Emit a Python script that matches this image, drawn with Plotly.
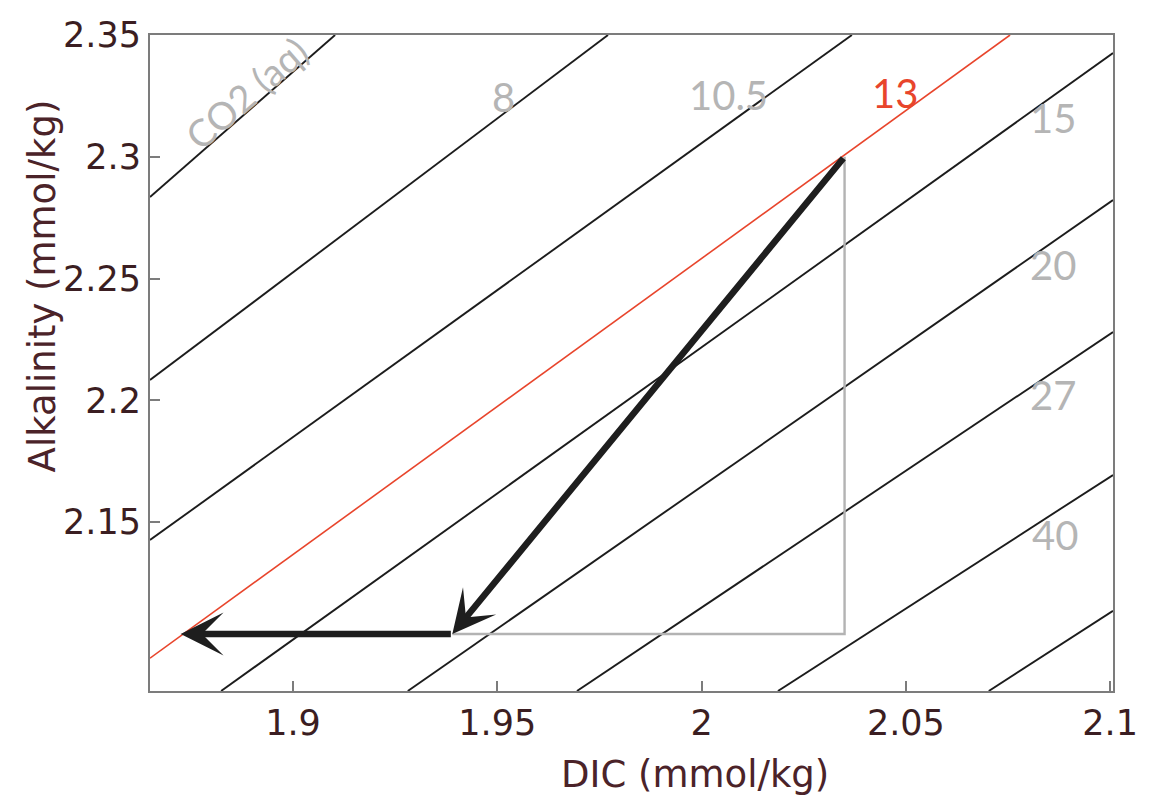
import plotly.graph_objects as go

# Axis ticks
x_ticks = [1.9, 1.95, 2.0, 2.05, 2.1]
x_tick_text = ["1.9", "1.95", "2", "2.05", "2.1"]
y_ticks = [2.15, 2.2, 2.25, 2.3, 2.35]
y_tick_text = ["2.15", "2.2", "2.25", "2.3", "2.35"]

# CO2(aq) isolines in DIC / alkalinity space, one segment per isoline
iso_dic_start = [1.865, 1.865, 1.865, 1.865, 1.8824, 1.9281, 1.9695, 2.0187, 2.0703]
iso_alk_start = [2.2835, 2.2083, 2.1426, 2.0941, 2.0806, 2.0806, 2.0806, 2.0806, 2.0806]
iso_dic_end = [1.9103, 1.9771, 2.0368, 2.0755, 2.1007, 2.1007, 2.1007, 2.1007, 2.1007]
iso_alk_end = [2.35, 2.35, 2.35, 2.35, 2.3426, 2.2822, 2.2280, 2.1693, 2.1135]
highlight_index = 3  # the 13 µmol/kg isoline

# Isoline labels
label_text = ["CO2 (aq)", "8", "10.5", "13", "15", "20", "27", "40"]
label_dic = [1.8885, 1.9516, 2.0065, 2.0473, 2.0860, 2.0860, 2.0860, 2.0865]
label_alk = [2.3262, 2.3245, 2.3254, 2.3262, 2.3159, 2.2555, 2.2022, 2.1447]

# Path: CaCO3 precipitation, then CO2 loss back to the 13 isoline
path_dic = [2.035, 1.939, 1.8725]
path_alk = [2.300, 2.104, 2.104]

x_range = [1.865, 2.1007]
y_range = [2.0806, 2.35]

TICK_COLOR = "#3b1e22"
TITLE_COLOR = "#4b2329"
FRAME_COLOR = "#7c7c7c"
LABEL_GREY = "#b5b5b5"
RED = "#e8452c"

fig = go.Figure()

# Isolines
for i in range(len(iso_dic_start)):
    red = i == highlight_index
    fig.add_trace(go.Scatter(
        x=[iso_dic_start[i], iso_dic_end[i]],
        y=[iso_alk_start[i], iso_alk_end[i]],
        mode="lines",
        line=dict(color=RED if red else "#1c1c1c", width=1.6 if red else 1.9),
        hoverinfo="skip",
    ))

# Grey component lines of the path
fig.add_trace(go.Scatter(
    x=[path_dic[1], path_dic[0], path_dic[0]],
    y=[path_alk[1], path_alk[1], path_alk[0]],
    mode="lines",
    line=dict(color="#b3b3b3", width=2.4),
    hoverinfo="skip",
))

annotations = []

# Thick arrows along the path
for i in range(len(path_dic) - 1):
    annotations.append(dict(
        x=path_dic[i + 1], y=path_alk[i + 1],
        ax=path_dic[i], ay=path_alk[i],
        xref="x", yref="y", axref="x", ayref="y",
        text="", showarrow=True,
        arrowhead=3, arrowsize=1.1, arrowwidth=6.5,
        arrowcolor="#1e1e1e", standoff=0, startstandoff=0,
    ))

# Isoline labels
for i, t in enumerate(label_text):
    is_red = i == highlight_index
    annotations.append(dict(
        x=label_dic[i], y=label_alk[i], xref="x", yref="y",
        text=t, showarrow=False,
        textangle=-41 if i == 0 else 0,
        font=dict(family="Lato", size=40 if i else 38,
                  color=RED if is_red else LABEL_GREY),
        xanchor="center", yanchor="middle",
    ))

# Axis titles
annotations.append(dict(
    x=0.566, y=-0.128, xref="paper", yref="paper",
    text="DIC (mmol/kg)", showarrow=False,
    font=dict(family="DejaVu Sans", size=37, color=TITLE_COLOR),
    xanchor="center", yanchor="middle",
))
annotations.append(dict(
    x=-0.112, y=0.617, xref="paper", yref="paper",
    text="Alkalinity (mmol/kg)", showarrow=False, textangle=-90,
    font=dict(family="DejaVu Sans", size=37, color=TITLE_COLOR),
    xanchor="center", yanchor="middle",
))

axis_common = dict(
    showgrid=False, zeroline=False,
    showline=True, linecolor=FRAME_COLOR, linewidth=2, mirror=True,
    ticks="inside", ticklen=10, tickwidth=2, tickcolor=FRAME_COLOR,
    tickfont=dict(family="DejaVu Sans", size=35, color=TICK_COLOR),
)

fig.update_layout(
    width=1154, height=800,
    margin=dict(l=150, r=41, t=35, b=109),
    paper_bgcolor="white", plot_bgcolor="white",
    showlegend=False,
    annotations=annotations,
    xaxis=dict(range=x_range, tickvals=x_ticks, ticktext=x_tick_text, **axis_common),
    yaxis=dict(range=y_range, tickvals=y_ticks, ticktext=y_tick_text, **axis_common),
)

fig.write_html("out.html")
